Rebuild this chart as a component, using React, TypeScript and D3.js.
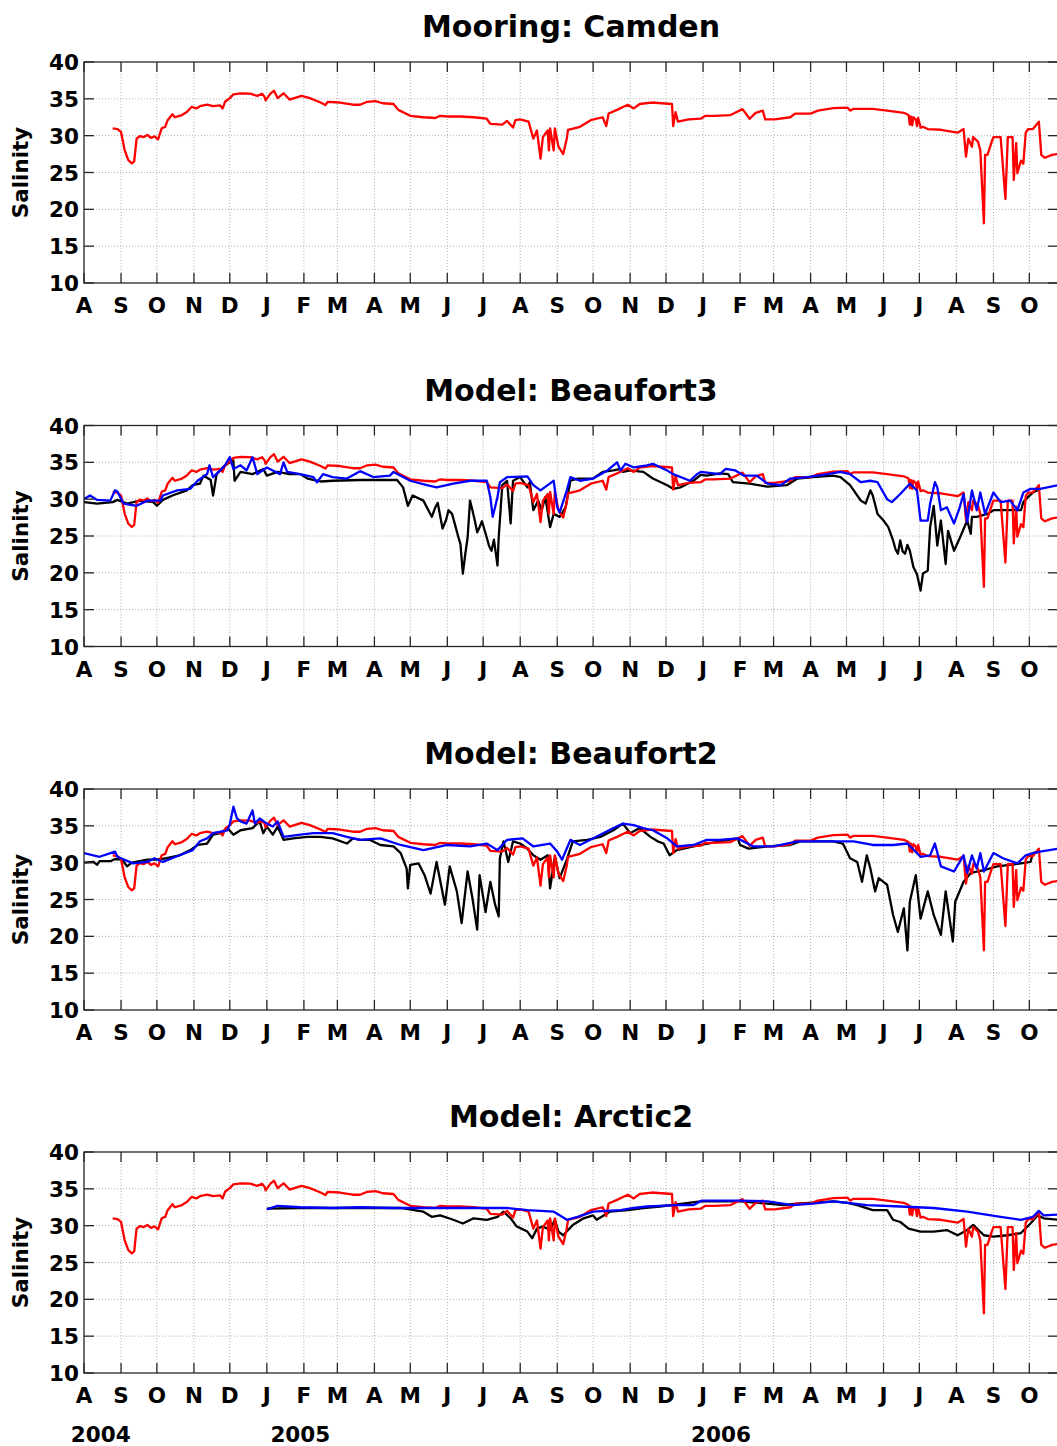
import React, { useRef, useEffect } from 'react';
import * as d3 from 'd3';

// time axis: days counted from 1 Aug 2004
const START = new Date(2004, 7, 1);
const END_DAY = 815;

const yTicks = [10, 15, 20, 25, 30, 35, 40];
const panelTitles = ['Mooring: Camden', 'Model: Beaufort3', 'Model: Beaufort2', 'Model: Arctic2'];
const yearLabels: [string, number][] = [['2004', 14], ['2005', 181], ['2006', 533]];

// [day, salinity]
const camdenObs: [number, number][] = [
  [24, 31.0], [28, 30.9], [31, 30.5], [34, 28.05], [37, 26.7], [40, 26.25], [42, 26.5], [44, 29.6], [47, 29.95], [50, 29.8],
  [53, 30.1], [56, 29.7], [59, 29.9], [62, 29.5], [65, 31.0], [68, 31.2], [70, 32.1], [74, 32.9], [76, 32.5], [82, 32.8],
  [86, 33.2], [90, 33.9], [94, 33.7], [97, 34.0], [103, 34.2], [108, 34.0], [114, 34.1], [116, 33.7], [118, 34.6], [122, 35.1],
  [125, 35.6], [131, 35.75], [139, 35.7], [145, 35.4], [149, 35.7], [151, 35.3], [152, 34.8], [156, 35.7], [159, 36.1],
  [162, 35.1], [167, 35.75], [172, 34.9], [182, 35.4], [189, 35.1], [198, 34.5], [202, 34.15], [204, 34.6], [214, 34.5],
  [225, 34.2], [231, 34.2], [237, 34.6], [244, 34.7], [250, 34.4], [259, 34.3], [263, 33.5], [273, 32.7], [284, 32.5],
  [294, 32.4], [298, 32.7], [304, 32.6], [315, 32.6], [326, 32.5], [337, 32.3], [340, 31.6], [350, 31.5], [354, 32.0],
  [359, 31.1], [361, 32.1], [365, 32.2], [372, 31.9], [376, 29.6], [379, 30.7], [382, 26.9], [384, 29.8], [388, 30.7],
  [389, 28.0], [390, 31.0], [393, 28.0], [394, 31.0], [397, 28.5], [401, 27.5], [404, 29.6], [405, 30.8], [415, 31.2],
  [424, 32.1], [434, 32.5], [437, 31.3], [439, 33.0], [446, 33.5], [451, 33.9], [455, 34.2], [460, 33.7], [465, 34.3],
  [475, 34.5], [492, 34.3], [493, 31.3], [495, 33.2], [497, 31.9], [506, 32.2], [516, 32.3], [520, 32.7], [527, 32.7],
  [541, 32.8], [551, 33.6], [557, 32.3], [562, 33.1], [568, 33.4], [570, 32.2], [578, 32.2], [591, 32.5], [595, 33.0],
  [608, 33.0], [614, 33.4], [627, 33.75], [639, 33.8], [641, 33.4], [644, 33.65], [660, 33.65], [672, 33.4], [686, 33.1],
  [690, 32.8], [691, 31.5], [692, 32.6], [693, 31.4], [694, 32.5], [696, 32.2], [697, 31.3], [698, 32.4], [700, 31.1],
  [702, 31.2], [706, 30.9], [717, 30.8], [731, 30.4], [736, 30.9], [738, 27.15], [740, 29.6], [743, 28.5], [744, 29.8],
  [748, 29.2], [750, 28.0], [753, 18.1], [754, 27.4], [756, 27.4], [760, 29.4], [761, 29.8], [767, 29.8], [771, 21.4],
  [773, 29.8], [777, 29.8], [778, 24.0], [780, 29.0], [781, 24.9], [784, 26.6], [786, 26.2], [788, 30.4], [790, 30.9],
  [794, 30.9], [799, 31.9], [801, 27.4], [804, 27.0], [810, 27.4], [815, 27.5],
];

const beaufort3Black: [number, number][] = [
  [0, 29.6], [11, 29.4], [24, 29.6], [28, 29.9], [36, 29.4], [47, 29.8], [58, 29.6], [61, 29.1], [66, 29.9], [74, 30.5],
  [86, 31.2], [91, 31.9], [97, 32.1], [100, 33.2], [106, 32.6], [108, 30.5], [111, 33.4], [116, 34.3], [120, 34.8],
  [125, 35.25], [126, 32.5], [131, 33.7], [141, 33.4], [150, 34.1], [153, 33.2], [162, 33.7], [172, 33.4], [181, 33.4],
  [187, 32.8], [198, 32.4], [208, 32.5], [231, 32.6], [242, 32.6], [262, 32.6], [267, 31.6], [271, 29.1], [275, 30.5],
  [284, 29.8], [291, 27.6], [294, 28.9], [296, 29.5], [300, 26.0], [303, 27.2], [305, 28.5], [308, 28.0], [311, 26.2],
  [313, 25.0], [315, 23.9], [317, 19.9], [319, 22.5], [321, 24.8], [323, 29.8], [325, 28.5], [327, 27.1], [329, 25.5],
  [331, 26.2], [333, 27.0], [337, 24.8], [339, 23.6], [341, 23.0], [343, 24.5], [346, 21.0], [347, 24.8], [350, 31.9],
  [354, 32.5], [357, 26.7], [359, 32.5], [365, 33.0], [371, 31.6], [373, 32.3], [376, 28.5], [380, 29.8], [383, 28.5],
  [386, 30.3], [390, 26.2], [393, 28.0], [398, 27.6], [403, 28.9], [407, 32.5], [413, 32.8], [426, 32.8], [434, 33.7],
  [443, 33.9], [449, 34.1], [451, 33.7], [457, 33.9], [468, 33.7], [476, 32.8], [488, 31.9], [493, 31.4], [499, 31.6],
  [510, 32.5], [516, 33.3], [521, 33.2], [532, 33.5], [539, 33.4], [543, 32.3], [557, 32.1], [572, 31.7], [588, 31.9],
  [597, 32.8], [610, 33.0], [627, 33.2], [633, 33.0], [641, 31.9], [650, 29.8], [654, 29.4], [658, 31.2], [660, 30.5],
  [664, 28.0], [669, 27.1], [673, 26.2], [677, 24.4], [679, 23.2], [681, 22.6], [683, 24.4], [685, 22.9], [687, 22.6],
  [689, 23.8], [691, 23.0], [694, 20.8], [697, 19.8], [700, 17.6], [702, 19.9], [706, 20.3], [708, 26.2], [711, 29.1],
  [714, 23.7], [717, 27.1], [721, 21.2], [723, 25.7], [728, 23.0], [733, 24.8], [739, 27.1], [742, 25.3], [743, 27.6],
  [747, 27.6], [756, 28.0], [761, 28.5], [767, 28.5], [775, 28.5], [784, 28.5], [786, 29.6], [790, 30.3], [794, 30.9],
  [800, 31.4],
];

const beaufort3Blue: [number, number][] = [
  [0, 30.0], [5, 30.5], [11, 29.9], [22, 29.8], [26, 31.2], [28, 31.0], [33, 29.4], [44, 29.1], [53, 29.8], [64, 29.8],
  [66, 30.5], [78, 31.2], [89, 31.4], [95, 32.5], [103, 33.4], [105, 34.6], [108, 33.0], [114, 33.9], [118, 34.6],
  [122, 35.7], [125, 34.1], [131, 34.6], [136, 33.9], [141, 35.7], [145, 33.4], [153, 34.3], [158, 33.9], [164, 33.4],
  [167, 35.0], [170, 33.7], [181, 33.4], [192, 33.0], [195, 32.3], [200, 33.4], [208, 33.0], [220, 32.8], [231, 33.8],
  [242, 33.0], [256, 33.2], [259, 33.7], [273, 32.5], [287, 31.9], [295, 31.6], [309, 32.1], [323, 32.5], [337, 32.5],
  [340, 30.3], [342, 27.6], [346, 30.3], [348, 32.3], [354, 33.0], [371, 33.1], [376, 31.9], [382, 31.2], [388, 31.9],
  [393, 32.5], [396, 28.9], [398, 28.2], [404, 31.2], [407, 33.0], [415, 32.5], [426, 32.8], [438, 33.9], [446, 35.0],
  [449, 33.9], [453, 34.8], [460, 34.3], [471, 34.6], [476, 34.8], [488, 33.9], [493, 33.4], [507, 32.5], [513, 33.4],
  [516, 33.7], [532, 33.4], [537, 34.1], [545, 33.9], [552, 33.2], [563, 33.2], [572, 32.1], [583, 31.9], [591, 32.8],
  [605, 33.0], [622, 33.4], [633, 33.7], [641, 33.4], [650, 32.3], [658, 32.5], [664, 32.3], [672, 30.0], [676, 29.6],
  [683, 30.7], [691, 32.1], [697, 31.2], [700, 27.1], [706, 27.1], [708, 29.4], [712, 32.3], [714, 31.6], [717, 28.5],
  [722, 28.9], [728, 26.7], [732, 28.5], [736, 30.7], [739, 26.9], [743, 31.2], [747, 28.5], [750, 30.9], [754, 28.0],
  [761, 30.9], [767, 29.6], [775, 29.8], [781, 28.5], [786, 30.9], [792, 31.4], [800, 31.4], [815, 31.9],
];

const beaufort2Black: [number, number][] = [
  [0, 30.0], [8, 30.1], [11, 29.7], [13, 30.2], [22, 30.2], [26, 30.5], [32, 30.4], [36, 29.5], [40, 30.0], [53, 30.4],
  [61, 30.4], [69, 30.6], [80, 31.0], [89, 31.7], [95, 32.4], [103, 32.6], [108, 33.8], [114, 34.0], [120, 34.7],
  [125, 33.8], [131, 34.4], [141, 34.7], [147, 35.6], [150, 34.0], [153, 34.9], [158, 33.8], [162, 34.9], [167, 33.1],
  [175, 33.3], [187, 33.5], [198, 33.5], [208, 33.3], [220, 32.6], [225, 33.3], [231, 33.1], [239, 33.1], [248, 32.4],
  [259, 32.2], [265, 31.3], [270, 29.2], [271, 26.5], [273, 29.7], [280, 29.9], [285, 28.3], [290, 25.8], [295, 30.1],
  [302, 24.3], [306, 29.5], [312, 26.1], [316, 21.8], [321, 28.8], [325, 25.2], [329, 20.9], [331, 28.3], [336, 23.3],
  [340, 27.4], [344, 24.3], [347, 22.7], [348, 30.6], [351, 32.9], [355, 30.1], [359, 32.9], [365, 32.6], [371, 31.9],
  [376, 31.0], [382, 30.4], [388, 31.0], [390, 26.5], [394, 30.8], [398, 27.9], [404, 30.4], [409, 32.9], [421, 33.1],
  [432, 33.5], [443, 34.4], [451, 35.3], [457, 34.0], [465, 34.7], [474, 33.5], [480, 32.9], [485, 32.6], [490, 31.0],
  [496, 31.7], [510, 32.2], [516, 32.4], [532, 32.9], [547, 33.3], [549, 32.4], [556, 31.9], [572, 32.2], [591, 32.4],
  [599, 32.9], [627, 32.9], [635, 32.6], [641, 30.6], [647, 30.1], [651, 27.4], [655, 31.0], [658, 29.2], [662, 26.1],
  [665, 27.9], [672, 27.0], [677, 22.9], [681, 20.6], [686, 23.8], [689, 18.1], [691, 24.7], [696, 28.3], [700, 22.4],
  [706, 26.1], [711, 22.9], [717, 20.2], [721, 26.1], [727, 19.3], [729, 24.7], [736, 27.4], [742, 28.6], [753, 29.0],
  [764, 29.5], [775, 29.7], [784, 29.9], [792, 30.1], [794, 31.3], [799, 31.5],
];

const beaufort2Blue: [number, number][] = [
  [0, 31.3], [13, 30.8], [26, 31.5], [28, 30.8], [41, 29.9], [53, 30.1], [59, 30.6], [66, 30.1], [80, 31.0], [91, 31.7],
  [97, 32.9], [103, 33.3], [108, 34.0], [120, 34.4], [122, 35.2], [125, 37.6], [128, 36.0], [131, 35.6], [136, 35.3],
  [141, 37.1], [143, 35.3], [147, 36.0], [153, 35.3], [158, 34.9], [162, 35.6], [167, 33.5], [181, 33.8], [192, 34.0],
  [208, 34.0], [220, 33.5], [231, 33.1], [248, 33.3], [265, 32.4], [284, 31.7], [304, 32.4], [323, 32.2], [337, 32.6],
  [346, 31.7], [354, 33.1], [367, 33.3], [376, 32.2], [390, 32.6], [396, 31.5], [400, 30.4], [407, 33.1], [415, 32.4],
  [432, 33.8], [443, 34.7], [451, 35.3], [460, 35.1], [468, 34.7], [476, 34.4], [488, 33.3], [496, 32.2], [510, 32.4],
  [521, 33.1], [532, 33.1], [547, 33.3], [560, 32.2], [577, 32.2], [597, 32.9], [622, 32.9], [644, 32.9], [660, 32.4],
  [677, 32.4], [689, 32.6], [700, 30.8], [708, 31.0], [712, 32.6], [717, 29.5], [728, 28.8], [736, 31.0], [739, 28.6],
  [743, 31.0], [747, 29.2], [750, 31.3], [753, 28.8], [761, 31.3], [769, 30.6], [781, 29.9], [788, 31.0], [794, 31.3],
  [800, 31.5], [815, 31.9],
];

const arctic2Black: [number, number][] = [
  [153, 32.3], [181, 32.4], [231, 32.4], [265, 32.4], [284, 31.9], [291, 31.2], [298, 31.4], [309, 30.8], [317, 30.3],
  [326, 31.0], [337, 30.8], [346, 31.2], [351, 31.9], [357, 31.0], [362, 29.9], [371, 29.2], [375, 28.3], [379, 29.6],
  [384, 29.9], [390, 29.4], [394, 30.8], [397, 29.2], [401, 28.7], [409, 30.1], [418, 31.0], [426, 31.4], [429, 30.8],
  [440, 31.9], [455, 32.1], [468, 32.4], [482, 32.6], [516, 33.3], [549, 33.3], [572, 33.0], [585, 32.8], [597, 33.0],
  [627, 33.3], [639, 33.1], [647, 32.8], [660, 32.1], [672, 32.1], [677, 30.8], [683, 30.5], [690, 29.6], [700, 29.2],
  [711, 29.2], [722, 29.4], [731, 28.7], [739, 29.4], [744, 30.1], [753, 28.7], [761, 28.5], [773, 28.7], [784, 29.0],
  [792, 30.3], [798, 31.4], [803, 31.0], [815, 30.8],
];

const arctic2Blue: [number, number][] = [
  [153, 32.2], [162, 32.7], [181, 32.5], [208, 32.4], [231, 32.5], [259, 32.4], [287, 32.4], [315, 32.4], [354, 32.4],
  [371, 32.1], [393, 31.9], [398, 31.4], [404, 30.8], [413, 31.2], [426, 31.9], [449, 32.1], [460, 32.4], [471, 32.6],
  [496, 32.8], [510, 32.8], [517, 33.4], [532, 33.4], [549, 33.4], [572, 33.3], [593, 32.8], [610, 33.0], [627, 33.3],
  [639, 33.1], [655, 32.8], [683, 32.6], [711, 32.4], [739, 31.9], [767, 31.2], [784, 30.8], [794, 31.2], [799, 32.0],
  [803, 31.4], [815, 31.5],
];

const panelModels: ([number, number][] | null)[][] = [
  [null, null],
  [beaufort3Black, beaufort3Blue],
  [beaufort2Black, beaufort2Blue],
  [arctic2Black, arctic2Blue],
];

const W = 1057;
const H = 1446;
const LEFT = 84;
const RIGHT = 1058;
const PANEL_TOPS = [62, 425.5, 789, 1152];
const PLOT_H = 221;
const FONT = '"DejaVu Sans", sans-serif';

const App: React.FC = () => {
  const svgRef = useRef<SVGSVGElement | null>(null);

  useEffect(() => {
    if (!svgRef.current) return;
    const svg = d3.select(svgRef.current);
    svg.selectAll('*').remove();

    const toDate = (d: number) => d3.timeDay.offset(START, d);
    const x = d3.scaleTime()
      .domain([START, toDate(END_DAY)])
      .range([LEFT, RIGHT]);
    const months = d3.timeMonth.range(START, toDate(END_DAY));
    const monthLetter = (d: Date) => d3.timeFormat('%b')(d)[0];

    svg.append('rect').attr('width', W).attr('height', H).attr('fill', '#fff');

    PANEL_TOPS.forEach((top, i) => {
      const bottom = top + PLOT_H;
      const y = d3.scaleLinear().domain([10, 40]).range([bottom, top]);
      const g = svg.append('g');

      // grid
      g.selectAll('.vgrid')
        .data(months.slice(1))
        .enter()
        .append('line')
        .attr('x1', d => x(d)).attr('x2', d => x(d))
        .attr('y1', top).attr('y2', bottom)
        .attr('stroke', '#b0b0b0').attr('stroke-width', 1)
        .attr('stroke-dasharray', '1,2');
      g.selectAll('.hgrid')
        .data(yTicks.slice(1, -1))
        .enter()
        .append('line')
        .attr('x1', LEFT).attr('x2', RIGHT)
        .attr('y1', d => y(d)).attr('y2', d => y(d))
        .attr('stroke', '#b0b0b0').attr('stroke-width', 1)
        .attr('stroke-dasharray', '1,2');

      // data
      const clipId = `clip${i}`;
      svg.append('clipPath').attr('id', clipId)
        .append('rect')
        .attr('x', LEFT).attr('y', top)
        .attr('width', RIGHT - LEFT).attr('height', PLOT_H);

      const line = d3.line<[number, number]>()
        .x(d => x(toDate(d[0])))
        .y(d => y(d[1]));

      const [black, blue] = panelModels[i];
      const series: [([number, number][] | null), string][] = [
        [black, '#000000'],
        [camdenObs, '#ff0000'],
        [blue, '#0000ff'],
      ];
      const lines = g.append('g').attr('clip-path', `url(#${clipId})`);
      series.forEach(([data, color]) => {
        if (!data) return;
        lines.append('path')
          .datum(d3.sort(data, d => d[0]))
          .attr('d', line)
          .attr('fill', 'none')
          .attr('stroke', color)
          .attr('stroke-width', 2.3)
          .attr('stroke-linejoin', 'round');
      });

      // box + ticks
      g.append('rect')
        .attr('x', LEFT).attr('y', top)
        .attr('width', RIGHT - LEFT).attr('height', PLOT_H)
        .attr('fill', 'none').attr('stroke', '#262626').attr('stroke-width', 1.3);

      g.selectAll('.xtickB')
        .data(months)
        .enter()
        .append('line')
        .attr('x1', d => x(d)).attr('x2', d => x(d))
        .attr('y1', bottom).attr('y2', bottom - 10)
        .attr('stroke', '#262626').attr('stroke-width', 1.3);
      g.selectAll('.xtickT')
        .data(months)
        .enter()
        .append('line')
        .attr('x1', d => x(d)).attr('x2', d => x(d))
        .attr('y1', top).attr('y2', top + 10)
        .attr('stroke', '#262626').attr('stroke-width', 1.3);
      g.selectAll('.ytickL')
        .data(yTicks)
        .enter()
        .append('line')
        .attr('x1', LEFT).attr('x2', LEFT + 10)
        .attr('y1', d => y(d)).attr('y2', d => y(d))
        .attr('stroke', '#262626').attr('stroke-width', 1.3);
      g.selectAll('.ytickR')
        .data(yTicks)
        .enter()
        .append('line')
        .attr('x1', RIGHT).attr('x2', RIGHT - 10)
        .attr('y1', d => y(d)).attr('y2', d => y(d))
        .attr('stroke', '#262626').attr('stroke-width', 1.3);

      // labels
      g.selectAll('.ylab')
        .data(yTicks)
        .enter()
        .append('text')
        .attr('x', LEFT - 5)
        .attr('y', d => y(d) + 8)
        .attr('text-anchor', 'end')
        .style('font-family', FONT).style('font-weight', 'bold').style('font-size', '21.5px')
        .text(d => d);

      g.selectAll('.xlab')
        .data(months)
        .enter()
        .append('text')
        .attr('x', d => x(d))
        .attr('y', bottom + 30)
        .attr('text-anchor', 'middle')
        .style('font-family', FONT).style('font-weight', 'bold').style('font-size', '21.5px')
        .text(d => monthLetter(d));

      g.append('text')
        .attr('transform', `translate(28, ${(top + bottom) / 2}) rotate(-90)`)
        .attr('text-anchor', 'middle')
        .style('font-family', FONT).style('font-weight', 'bold').style('font-size', '21.5px')
        .text('Salinity');

      g.append('text')
        .attr('x', (LEFT + RIGHT) / 2)
        .attr('y', top - 25)
        .attr('text-anchor', 'middle')
        .style('font-family', FONT).style('font-weight', 'bold').style('font-size', '30px')
        .text(panelTitles[i]);

      if (i === PANEL_TOPS.length - 1) {
        g.selectAll('.year')
          .data(yearLabels)
          .enter()
          .append('text')
          .attr('x', d => x(toDate(d[1])))
          .attr('y', bottom + 69)
          .attr('text-anchor', 'middle')
          .style('font-family', FONT).style('font-weight', 'bold').style('font-size', '21.5px')
          .text(d => d[0]);
      }
    });
  }, []);

  return (
    <svg
      ref={svgRef}
      width={W}
      height={H}
      style={{ position: 'absolute', left: 0, top: 0, display: 'block' }}
    />
  );
};

export default App;
